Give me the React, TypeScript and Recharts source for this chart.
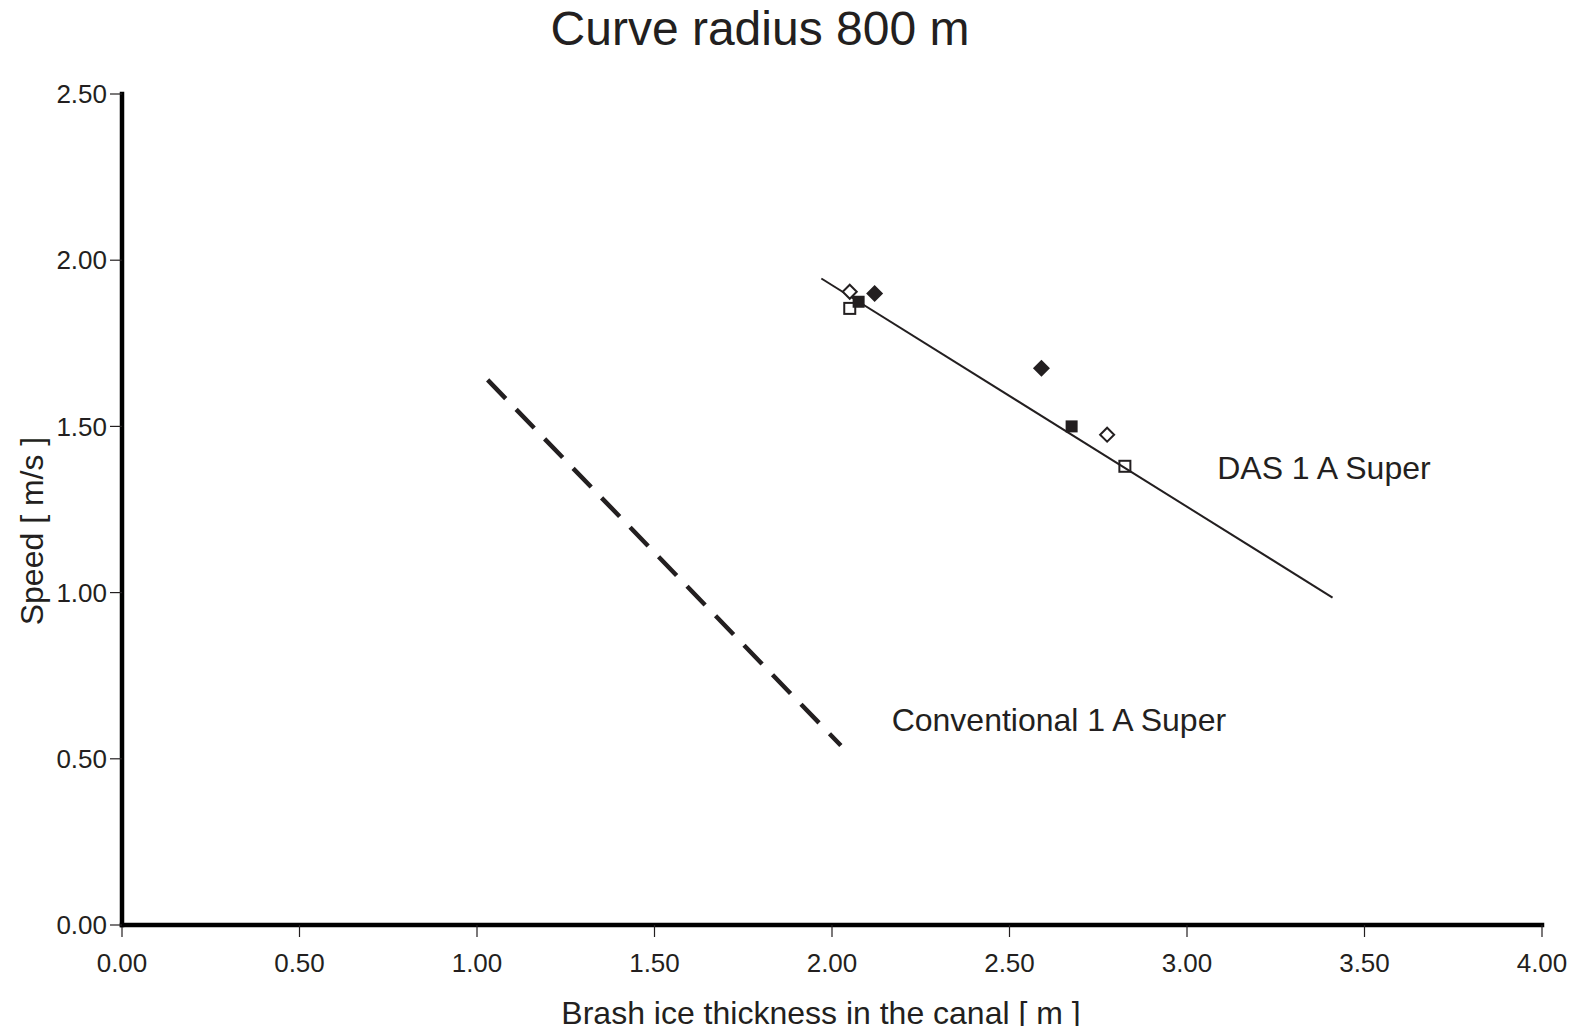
import React from 'react';
import {
    ComposedChart, Line, Scatter, XAxis, YAxis, ReferenceDot, Label
} from 'recharts';

// measured points, DAS 1 A Super trials
const dasFilledDiamond = [{ x: 2.12, y: 1.90 }, { x: 2.59, y: 1.675 }];
const dasFilledSquare = [{ x: 2.075, y: 1.875 }, { x: 2.675, y: 1.50 }];
const dasOpenDiamond = [{ x: 2.05, y: 1.905 }, { x: 2.775, y: 1.475 }];
const dasOpenSquare = [{ x: 2.05, y: 1.855 }, { x: 2.825, y: 1.38 }];

// trend lines
const dasFit = [{ x: 1.97, y: 1.945 }, { x: 3.41, y: 0.985 }];
const conventionalFit = [{ x: 1.03, y: 1.64 }, { x: 2.025, y: 0.54 }];

const xTicks = [0, 0.5, 1, 1.5, 2, 2.5, 3, 3.5, 4];
const yTicks = [0, 0.5, 1, 1.5, 2, 2.5];

const FONT = '"Liberation Sans", Arial, Helvetica, sans-serif';
const INK = '#231f20';

const filledDiamond = (p: any) => {
    const s = 8.5;
    return <polygon points={`${p.cx},${p.cy - s} ${p.cx + s},${p.cy} ${p.cx},${p.cy + s} ${p.cx - s},${p.cy}`} fill={INK} />;
};
const openDiamond = (p: any) => {
    const s = 7;
    return <polygon points={`${p.cx},${p.cy - s} ${p.cx + s},${p.cy} ${p.cx},${p.cy + s} ${p.cx - s},${p.cy}`} fill="#fff" stroke={INK} strokeWidth={2} />;
};
const filledSquare = (p: any) => <rect x={p.cx - 6} y={p.cy - 6} width={12} height={12} fill={INK} />;
const openSquare = (p: any) => <rect x={p.cx - 5.5} y={p.cy - 5.5} width={11} height={11} fill="none" stroke={INK} strokeWidth={2} />;

const seriesLabel = (text: string) => (p: any) => (
    <text x={p.cx} y={p.cy} fontSize={32} fontFamily={FONT} fill={INK} textAnchor="start">{text}</text>
);

export default function App() {
    const tickStyle = { fontSize: 26, fill: INK, fontFamily: FONT };

    return (
        <div style={{ position: 'relative', width: 1577, height: 1034, margin: -8, background: '#fff' }}>
            <ComposedChart width={1577} height={1034} margin={{ top: 94, right: 35, left: 0, bottom: 0 }}>
                <XAxis
                    type="number"
                    dataKey="x"
                    domain={[0, 4]}
                    ticks={xTicks}
                    height={109}
                    tickFormatter={(v) => v.toFixed(2)}
                    axisLine={{ stroke: '#000', strokeWidth: 4.5, strokeLinecap: 'square' }}
                    tickLine={{ stroke: INK, strokeWidth: 1.2 }}
                    tickSize={12}
                    tickMargin={17}
                    tick={tickStyle}
                    allowDataOverflow
                >
                    <Label
                        content={() => (
                            <text x={821} y={1024} fontSize={32} fontFamily={FONT} fill={INK} textAnchor="middle">
                                Brash ice thickness in the canal [ m ]
                            </text>
                        )}
                    />
                </XAxis>
                <YAxis
                    type="number"
                    dataKey="y"
                    domain={[0, 2.5]}
                    ticks={yTicks}
                    width={122}
                    tickFormatter={(v) => v.toFixed(2)}
                    axisLine={{ stroke: '#000', strokeWidth: 4.5, strokeLinecap: 'square' }}
                    tickLine={{ stroke: INK, strokeWidth: 1.2 }}
                    tickSize={12}
                    tickMargin={3}
                    tick={tickStyle}
                    allowDataOverflow
                >
                    <Label
                        content={() => (
                            <text x={43} y={531} fontSize={32} fontFamily={FONT} fill={INK} textAnchor="middle" transform="rotate(-90, 43, 531)">
                                Speed [ m/s ]
                            </text>
                        )}
                    />
                </YAxis>

                <Line data={conventionalFit} dataKey="y" type="linear" stroke={INK} strokeWidth={4.5} strokeDasharray="26 15" dot={false} isAnimationActive={false} />
                <Line data={dasFit} dataKey="y" type="linear" stroke={INK} strokeWidth={2} dot={false} isAnimationActive={false} />

                <Scatter data={dasOpenSquare} dataKey="y" shape={openSquare} isAnimationActive={false} />
                <Scatter data={dasOpenDiamond} dataKey="y" shape={openDiamond} isAnimationActive={false} />
                <Scatter data={dasFilledSquare} dataKey="y" shape={filledSquare} isAnimationActive={false} />
                <Scatter data={dasFilledDiamond} dataKey="y" shape={filledDiamond} isAnimationActive={false} />

                <ReferenceDot x={3.085} y={1.342} r={0} shape={seriesLabel('DAS 1 A Super')} />
                <ReferenceDot x={2.168} y={0.584} r={0} shape={seriesLabel('Conventional 1 A Super')} />
            </ComposedChart>

            <svg width={1577} height={70} style={{ position: 'absolute', left: 0, top: 0, pointerEvents: 'none' }}>
                <text x={760} y={45} fontSize={48} fontFamily={FONT} fill={INK} textAnchor="middle">Curve radius 800 m</text>
            </svg>
        </div>
    );
}
